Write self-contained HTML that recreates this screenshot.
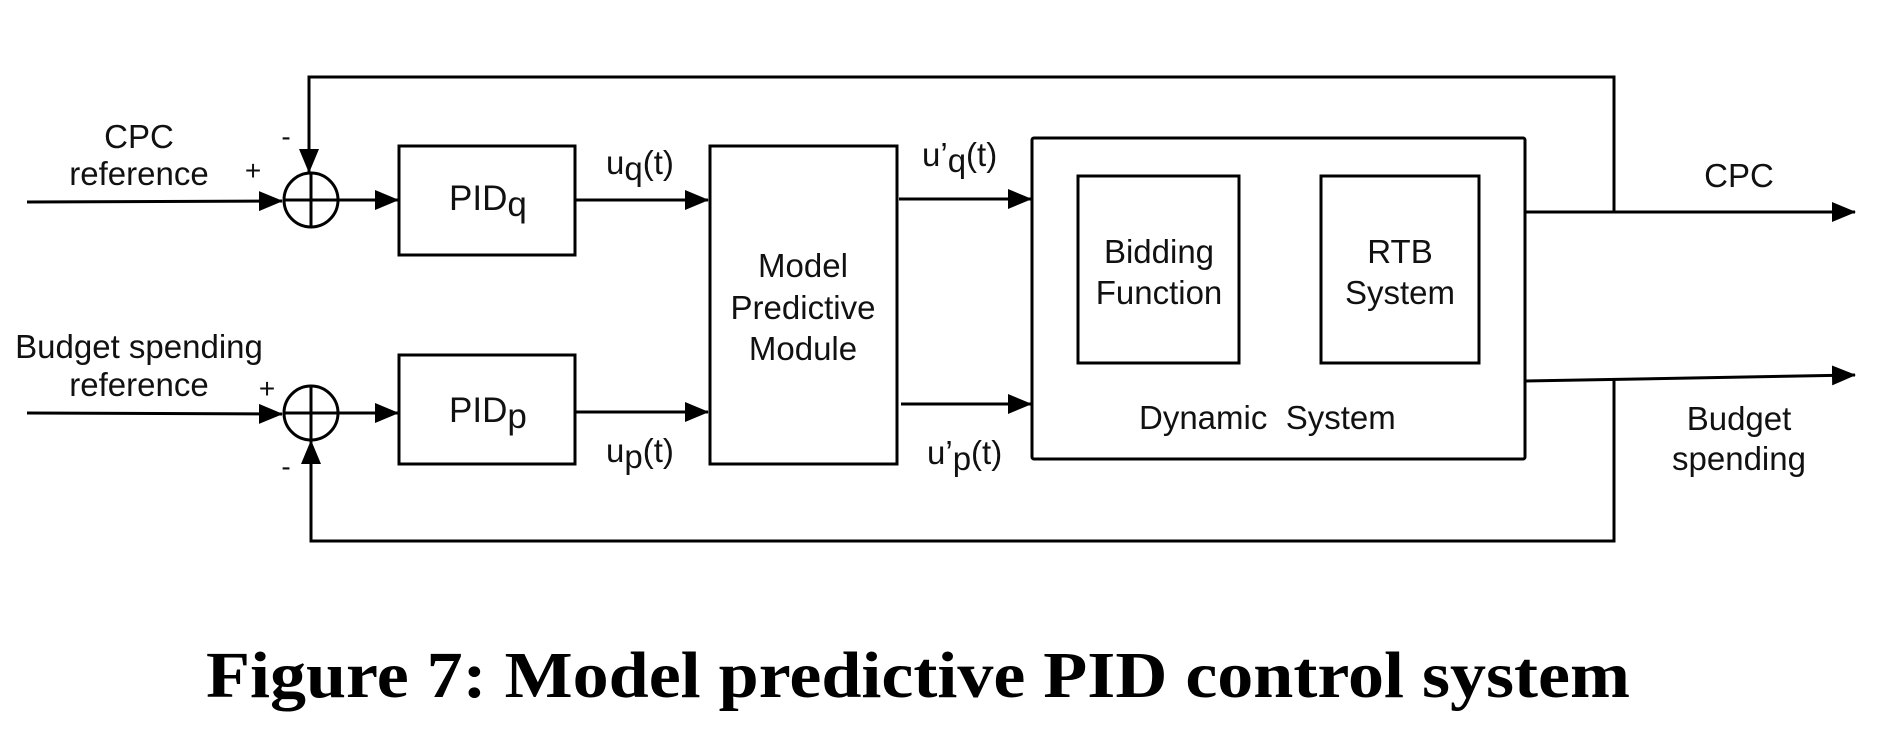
<!DOCTYPE html>
<html><head><meta charset="utf-8"><style>
html,body{margin:0;padding:0;background:#fff;}
svg{display:block;}
text{font-family:"Liberation Sans",sans-serif;fill:#111;}
</style></head><body>
<svg width="1902" height="744" viewBox="0 0 1902 744" xmlns="http://www.w3.org/2000/svg">
<defs>
<marker id="a" markerWidth="24" markerHeight="20" refX="23" refY="10" orient="auto" markerUnits="userSpaceOnUse">
<path d="M0,0 L24,10 L0,20 Z" fill="#000"/>
</marker>
</defs>
<g stroke="#000" stroke-width="3" fill="none">
<line x1="27" y1="202" x2="282" y2="201" marker-end="url(#a)"/>
<line x1="27" y1="413" x2="282" y2="414" marker-end="url(#a)"/>
<circle cx="311" cy="200" r="27"/>
<line x1="284" y1="200" x2="338" y2="200"/><line x1="311" y1="173" x2="311" y2="227"/>
<circle cx="311" cy="413" r="27"/>
<line x1="284" y1="413" x2="338" y2="413"/><line x1="311" y1="386" x2="311" y2="440"/>
<line x1="338" y1="200" x2="398" y2="200" marker-end="url(#a)"/>
<line x1="338" y1="413" x2="398" y2="413" marker-end="url(#a)"/>
<rect x="399" y="146" width="176" height="109"/>
<rect x="399" y="355" width="176" height="109"/>
<line x1="575" y1="200" x2="708" y2="200" marker-end="url(#a)"/>
<line x1="575" y1="412" x2="708" y2="412" marker-end="url(#a)"/>
<rect x="710" y="146" width="187" height="318"/>
<line x1="899" y1="199" x2="1031" y2="199" marker-end="url(#a)"/>
<line x1="901" y1="404" x2="1031" y2="404" marker-end="url(#a)"/>
<rect x="1032" y="138" width="493" height="321" rx="2"/>
<rect x="1078" y="176" width="161" height="187"/>
<rect x="1321" y="176" width="158" height="187"/>
<line x1="1525" y1="212" x2="1855" y2="212" marker-end="url(#a)"/>
<line x1="1525" y1="381" x2="1855" y2="375" marker-end="url(#a)"/>
<polyline points="1614,212 1614,77 309,77 309,172" marker-end="url(#a)"/>
<polyline points="1614,380 1614,541 311,541 311,441" marker-end="url(#a)"/>
</g>
<g font-size="33">
<text x="139" y="148" text-anchor="middle">CPC</text>
<text x="139" y="185" text-anchor="middle">reference</text>
<text x="139" y="358" text-anchor="middle">Budget spending</text>
<text x="139" y="396" text-anchor="middle">reference</text>
<text x="253" y="180" text-anchor="middle" font-size="28">+</text>
<text x="286" y="146" text-anchor="middle" font-size="28">-</text>
<text x="267" y="398" text-anchor="middle" font-size="28">+</text>
<text x="286" y="476" text-anchor="middle" font-size="28">-</text>
<text x="449" y="210" font-size="35">PID<tspan dy="6">q</tspan></text>
<text x="449" y="422" font-size="35">PID<tspan dy="6">p</tspan></text>
<text x="606" y="174">u<tspan dy="6">q</tspan><tspan dy="-6">(t)</tspan></text>
<text x="606" y="462">u<tspan dy="6">p</tspan><tspan dy="-6">(t)</tspan></text>
<text x="922" y="166">u’<tspan dy="6">q</tspan><tspan dy="-6">(t)</tspan></text>
<text x="927" y="464">u’<tspan dy="6">p</tspan><tspan dy="-6">(t)</tspan></text>
<text x="803" y="277" text-anchor="middle">Model</text>
<text x="803" y="319" text-anchor="middle">Predictive</text>
<text x="803" y="360" text-anchor="middle">Module</text>
<text x="1159" y="263" text-anchor="middle">Bidding</text>
<text x="1159" y="304" text-anchor="middle">Function</text>
<text x="1400" y="263" text-anchor="middle">RTB</text>
<text x="1400" y="304" text-anchor="middle">System</text>
<text x="1139" y="429" xml:space="preserve">Dynamic  System</text>
<text x="1739" y="187" text-anchor="middle">CPC</text>
<text x="1739" y="430" text-anchor="middle">Budget</text>
<text x="1739" y="470" text-anchor="middle">spending</text>
</g>
<text x="206" y="697" style="font-family:'Liberation Serif',serif;font-weight:bold;fill:#000" font-size="66" textLength="1424" lengthAdjust="spacingAndGlyphs">Figure 7: Model predictive PID control system</text>
</svg>
</body></html>
